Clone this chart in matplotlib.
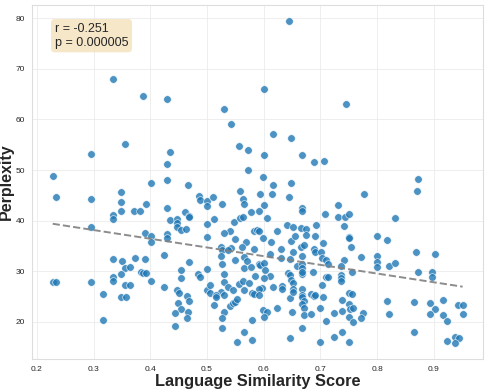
import numpy as np
import matplotlib
matplotlib.use("Agg")
import matplotlib.pyplot as plt
import seaborn as sns

# similarity score / perplexity pairs
similarity = [
    0.228, 0.295, 0.335, 0.355, 0.349, 0.387, 0.402, 0.429, 0.435, 0.429,
    0.429, 0.466, 0.530, 0.543, 0.556, 0.558, 0.572, 0.573, 0.645, 0.601,
    0.745, 0.617, 0.648, 0.601, 0.667, 0.689, 0.706, 0.599, 0.617, 0.649,
    0.873, 0.870,
    0.234, 0.295, 0.349, 0.392, 0.429, 0.486, 0.488, 0.500, 0.500, 0.511,
    0.526, 0.564, 0.565, 0.593, 0.614, 0.645, 0.777, 0.600, 0.731, 0.668,
    0.334, 0.334, 0.349, 0.372, 0.382, 0.296, 0.435, 0.447, 0.447, 0.447,
    0.455, 0.462, 0.468, 0.468, 0.463, 0.500, 0.513, 0.541, 0.548, 0.559,
    0.563, 0.577, 0.591, 0.606, 0.667, 0.709, 0.731, 0.744, 0.750, 0.832,
    0.642, 0.652, 0.583, 0.588, 0.592, 0.624, 0.666, 0.675, 0.692, 0.741,
    0.391, 0.402, 0.402, 0.429, 0.429, 0.500, 0.531, 0.549, 0.599, 0.675,
    0.691, 0.750, 0.750, 0.754, 0.800, 0.818, 0.569, 0.613, 0.649, 0.656,
    0.666, 0.671, 0.704, 0.524, 0.526, 0.543, 0.538, 0.562, 0.583, 0.631,
    0.652, 0.688, 0.691, 0.702,
    0.335, 0.350, 0.355, 0.365, 0.373, 0.391, 0.424, 0.468, 0.455, 0.500,
    0.524, 0.526, 0.549, 0.565, 0.565, 0.611, 0.667, 0.631, 0.646, 0.703,
    0.710, 0.741, 0.772, 0.800, 0.869, 0.902, 0.571, 0.591, 0.594, 0.600,
    0.578, 0.658, 0.667, 0.668, 0.713, 0.737, 0.800, 0.800, 0.821, 0.832,
    0.603,
    0.228, 0.234, 0.296, 0.334, 0.335, 0.348, 0.356, 0.365, 0.384, 0.388,
    0.392, 0.402, 0.424, 0.455, 0.447, 0.484, 0.488, 0.500, 0.505, 0.530,
    0.530, 0.524, 0.537, 0.546, 0.557, 0.564, 0.565, 0.643, 0.646, 0.667,
    0.667, 0.756, 0.873, 0.897, 0.897, 0.584, 0.611, 0.575, 0.601, 0.649,
    0.652, 0.652, 0.710, 0.713, 0.737, 0.737, 0.737, 0.597, 0.591, 0.616,
    0.632, 0.632, 0.703, 0.668, 0.687,
    0.316, 0.348, 0.357, 0.450, 0.449, 0.455, 0.464, 0.468, 0.466, 0.444,
    0.505, 0.516, 0.516, 0.512, 0.530, 0.531, 0.541, 0.546, 0.549, 0.553,
    0.579, 0.583, 0.591, 0.647, 0.652, 0.667, 0.667, 0.683, 0.688, 0.691,
    0.704, 0.750, 0.756, 0.738, 0.818, 0.865, 0.893, 0.917, 0.942, 0.951,
    0.671, 0.667, 0.624, 0.671, 0.700, 0.599, 0.606, 0.650, 0.750, 0.753,
    0.757, 0.738, 0.902,
    0.316, 0.444, 0.464, 0.526, 0.526, 0.553, 0.565, 0.724, 0.776, 0.893,
    0.917, 0.951, 0.821, 0.580, 0.601, 0.671, 0.684, 0.772, 0.710, 0.751,
    0.757, 0.923, 0.667, 0.738, 0.865, 0.580, 0.647, 0.700, 0.724, 0.750,
    0.923, 0.938, 0.944, 0.938,
]

perplexity = [
    48.9, 53.2, 68.0, 55.1, 45.7, 64.7, 47.5, 64.0, 53.6, 51.1,
    48.1, 47.0, 62.0, 59.1, 54.8, 45.8, 53.9, 50.0, 79.4, 66.0,
    63.0, 57.2, 56.3, 52.9, 53.0, 51.5, 51.8, 48.7, 47.1, 47.4,
    48.2, 45.8,
    44.7, 44.2, 43.6, 43.2, 42.6, 44.9, 44.1, 43.9, 42.8, 44.6,
    43.2, 44.2, 43.3, 45.3, 45.3, 44.7, 45.3, 43.1, 43.0, 42.5,
    41.2, 40.4, 41.9, 41.9, 41.9, 38.7, 40.1, 40.3, 39.6, 38.7,
    38.2, 41.8, 41.0, 40.7, 38.4, 39.3, 40.3, 38.0, 39.8, 40.5,
    40.8, 41.8, 41.9, 40.5, 41.9, 41.4, 40.8, 40.8, 41.3, 40.5,
    39.1, 38.8, 38.0, 38.1, 37.9, 38.0, 38.5, 38.4, 39.2, 38.9,
    37.6, 37.0, 35.8, 37.3, 36.5, 36.8, 37.6, 36.4, 36.6, 37.2,
    36.9, 36.8, 36.5, 34.9, 37.0, 36.1, 35.7, 35.8, 35.9, 37.0,
    34.9, 35.2, 35.6, 34.9, 34.2, 34.7, 34.2, 34.9, 34.4, 34.4,
    33.8, 34.4, 33.9, 33.8,
    32.5, 32.0, 30.6, 30.9, 32.7, 32.4, 33.2, 31.8, 30.3, 30.5,
    33.1, 31.4, 32.2, 32.8, 30.7, 33.4, 33.0, 32.6, 32.5, 32.7,
    32.2, 32.2, 32.8, 33.0, 33.8, 33.4, 32.0, 31.4, 31.2, 31.6,
    30.8, 31.0, 31.5, 30.7, 31.5, 31.1, 31.9, 30.9, 31.0, 31.7,
    30.3,
    27.8, 27.9, 27.8, 28.9, 28.1, 29.5, 27.3, 27.3, 29.9, 29.7,
    29.7, 28.0, 26.9, 28.6, 26.4, 29.5, 28.8, 26.3, 27.2, 29.5,
    27.8, 26.0, 27.0, 26.3, 27.5, 28.1, 26.4, 29.6, 29.3, 29.5,
    29.9, 29.8, 29.9, 29.8, 28.8, 29.1, 29.0, 27.6, 28.6, 28.3,
    27.6, 26.6, 28.9, 28.8, 29.3, 28.6, 28.0, 26.8, 26.6, 27.0,
    27.1, 26.5, 27.3, 26.5, 29.9,
    25.5, 25.0, 24.9, 25.8, 23.7, 22.5, 25.1, 24.1, 22.0, 21.7,
    25.8, 25.3, 25.0, 23.4, 25.3, 22.0, 23.1, 23.7, 24.0, 24.6,
    25.7, 25.5, 25.3, 24.8, 25.9, 25.3, 24.9, 25.5, 25.2, 25.3,
    25.0, 25.8, 25.5, 24.3, 24.1, 24.0, 23.7, 24.3, 23.4, 23.4,
    24.1, 23.5, 22.7, 22.7, 22.8, 22.4, 22.0, 22.0, 23.5, 22.5,
    22.7, 22.2, 22.6,
    20.3, 19.3, 20.7, 20.7, 18.9, 16.0, 18.1, 21.8, 21.7, 21.6,
    21.3, 21.5, 21.5, 20.4, 20.9, 21.3, 21.6, 20.7, 20.1, 20.9,
    19.9, 20.1, 18.9, 18.0, 18.1, 16.4, 16.9, 16.0, 17.1, 16.0,
    16.3, 17.1, 16.9, 15.9,
]

r_text = "r = -0.251\np = 0.000005"

sns.set_style("whitegrid")
plt.rcParams['font.family'] = ['Liberation Sans', 'DejaVu Sans']

x = np.array(similarity)
y = np.array(perplexity)

fig, ax = plt.subplots(figsize=(4.88, 3.9), dpi=100)
fig.subplots_adjust(left=0.066, right=0.99, top=0.987, bottom=0.08)

ax.scatter(x, y, s=30, color='#1f77b4', alpha=0.8, edgecolor='white', linewidth=0.5, zorder=3)

# regression line
slope, intercept = np.polyfit(x, y, 1)
xs = np.linspace(x.min(), x.max(), 100)
ax.plot(xs, slope * xs + intercept, '--', color='gray', linewidth=1.4, alpha=0.9, zorder=4)

ax.text(0.05, 0.95, r_text, transform=ax.transAxes, fontsize=9, va='top', ha='left',
        bbox=dict(boxstyle='round,pad=0.3', facecolor='wheat', edgecolor='none', alpha=0.7), zorder=5)

ax.set_xlabel("Language Similarity Score", fontsize=11.8, fontweight='bold', labelpad=1)
ax.set_ylabel("Perplexity", fontsize=11.5, fontweight='bold', labelpad=1)
ax.tick_params(axis='both', labelsize=6, pad=1.5)
ax.grid(True, color='#ebebeb', linewidth=0.6)
for sp in ax.spines.values():
    sp.set_color('#dddddd')

plt.savefig("out.png", dpi=100)
plt.close()
